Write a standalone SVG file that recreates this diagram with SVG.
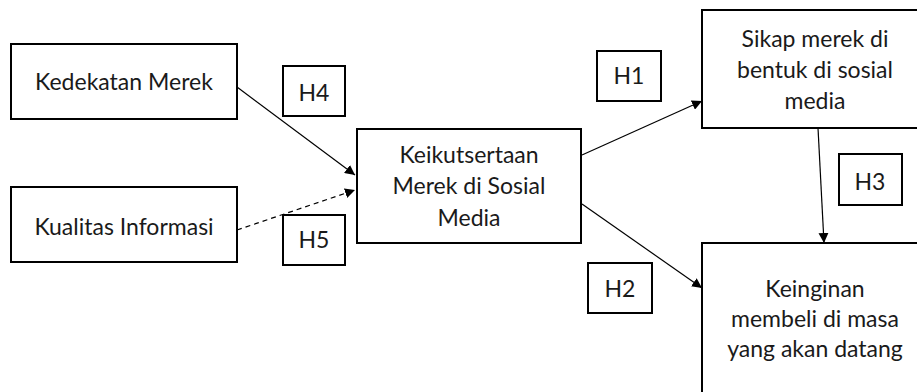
<svg xmlns="http://www.w3.org/2000/svg" width="917" height="392" viewBox="0 0 917 392">
<defs>
<style>
.box{fill:#fff;stroke:#000;stroke-width:2}
.t{font-family:Lato,"Open Sans","Liberation Sans",sans-serif;font-size:23px;fill:#1a1a1a;text-anchor:middle}
.c{stroke:#000;stroke-width:1.2;fill:none}
</style>
<marker id="ah" viewBox="0 0 10 10" refX="10" refY="5" markerWidth="10" markerHeight="10" markerUnits="userSpaceOnUse" orient="auto">
<path d="M0,0 L10,5 L0,10 Z" fill="#000"/>
</marker>
</defs>
<rect width="917" height="392" fill="#fff"/>
<g id="connectors">
<line class="c" x1="237" y1="87" x2="355" y2="175" marker-end="url(#ah)"/>
<line class="c" x1="237" y1="230" x2="355" y2="190" stroke-dasharray="5,4" marker-end="url(#ah)"/>
<line class="c" x1="582" y1="155" x2="702" y2="101" marker-end="url(#ah)"/>
<line class="c" x1="582" y1="204" x2="702" y2="288" marker-end="url(#ah)"/>
<line class="c" x1="818" y1="128" x2="824" y2="243" marker-end="url(#ah)"/>
</g>
<g id="kedekatan">
<rect class="box" x="11" y="44" width="226" height="75"/>
<text class="t" x="124" y="90">Kedekatan Merek</text>
</g>
<g id="kualitas">
<rect class="box" x="11" y="187" width="226" height="75"/>
<text class="t" x="124" y="235">Kualitas Informasi</text>
</g>
<g id="h4">
<rect class="box" x="283" y="66" width="62" height="50"/>
<text class="t" x="314" y="101">H4</text>
</g>
<g id="h5">
<rect class="box" x="283" y="215" width="62" height="50"/>
<text class="t" x="314" y="248">H5</text>
</g>
<g id="keikutsertaan">
<rect class="box" x="357" y="129" width="224" height="114"/>
<text class="t" x="469" y="163">Keikutsertaan</text>
<text class="t" x="469" y="194">Merek di Sosial</text>
<text class="t" x="469" y="226">Media</text>
</g>
<g id="h1">
<rect class="box" x="597" y="51" width="64" height="50"/>
<text class="t" x="629" y="84">H1</text>
</g>
<g id="h2">
<rect class="box" x="588" y="263" width="64" height="50"/>
<text class="t" x="620" y="297">H2</text>
</g>
<g id="sikap">
<rect class="box" x="702" y="10" width="228" height="118"/>
<text class="t" x="815" y="47">Sikap merek di</text>
<text class="t" x="815" y="78">bentuk di sosial</text>
<text class="t" x="815" y="109">media</text>
</g>
<g id="h3">
<rect class="box" x="839" y="154" width="63" height="51"/>
<text class="t" x="870" y="190">H3</text>
</g>
<g id="keinginan">
<rect class="box" x="702" y="243" width="228" height="160"/>
<text class="t" x="815" y="297">Keinginan</text>
<text class="t" x="815" y="327">membeli di masa</text>
<text class="t" x="815" y="357">yang akan datang</text>
</g>
</svg>
